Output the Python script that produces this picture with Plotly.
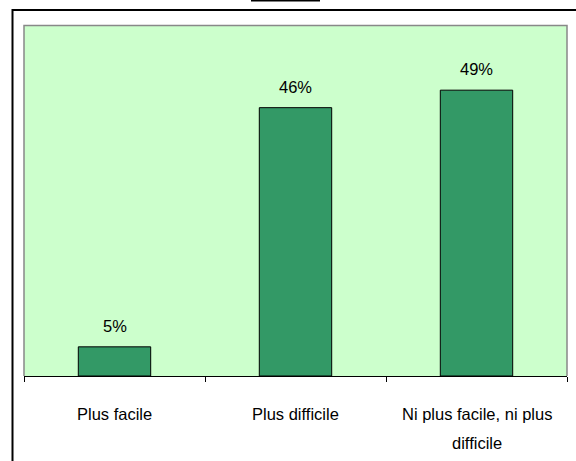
import plotly.graph_objects as go

# Survey answers and their shares (%)
categories = ["Plus facile", "Plus difficile", "Ni plus facile, ni plus difficile"]
label_lines = [["Plus facile"], ["Plus difficile"], ["Ni plus facile, ni plus", "difficile"]]
values = [5, 46, 49]
value_labels = ["5%", "46%", "49%"]

W, H = 576, 461
L, R, T, B = 24, 9, 26, 85
PW, PH = W - L - R, H - T - B

FONT = "Liberation Sans Narrow, Arial Narrow, Liberation Sans, Arial, sans-serif"


def px(x):
    return (x - L) / PW


def py(y):
    return (H - B - y) / PH


fig = go.Figure(
    go.Bar(
        x=categories,
        y=values,
        marker=dict(color="#339966", line=dict(color="#000000", width=1)),
        width=0.4,
        hoverinfo="skip",
    )
)

annotations = []
for cat, v, lab in zip(categories, values, value_labels):
    annotations.append(dict(
        x=cat, y=v, xref="x", yref="y", text=lab, showarrow=False,
        yanchor="middle", yshift=21, font=dict(family=FONT, size=16.5, color="#000000"),
    ))
for cat, lines in zip(categories, label_lines):
    for i, line in enumerate(lines):
        annotations.append(dict(
            x=cat, y=py(414 + 29 * i), xref="x", yref="paper", text=line,
            showarrow=False, yanchor="middle",
            font=dict(family=FONT, size=16.5, color="#000000"),
        ))

shapes = [
    # plot area border (top, left, right)
    dict(type="path", xref="paper", yref="paper",
         path=f"M 0 0 L 0 {py(25.5)} L {px(567)} {py(25.5)} L {px(567)} 0",
         line=dict(color="#888888", width=1.5), layer="above"),
    # outer frame
    dict(type="path", xref="paper", yref="paper",
         path=f"M {px(12.5)} {py(470)} L {px(12.5)} {py(10)} L {px(590)} {py(10)}",
         line=dict(color="#000000", width=2), layer="above"),
    # small bar at the top edge
    dict(type="line", xref="paper", yref="paper",
         x0=px(251), x1=px(320), y0=py(0.5), y1=py(0.5),
         line=dict(color="#000000", width=2), layer="above"),
]

fig.update_layout(
    width=W, height=H,
    margin=dict(l=L, r=R, t=T, b=B, autoexpand=False),
    paper_bgcolor="#FFFFFF",
    plot_bgcolor="#CCFFCC",
    showlegend=False,
    annotations=annotations,
    shapes=shapes,
    xaxis=dict(
        showticklabels=False, ticks="outside", tickson="boundaries",
        ticklen=5, tickcolor="#000000", tickwidth=1,
        showline=True, linecolor="#000000", linewidth=1,
        showgrid=False, zeroline=False, fixedrange=True,
    ),
    yaxis=dict(
        range=[0, 60], visible=False, showgrid=False, zeroline=False,
        fixedrange=True,
    ),
)

fig.write_html("out.html", config={"displayModeBar": False})
